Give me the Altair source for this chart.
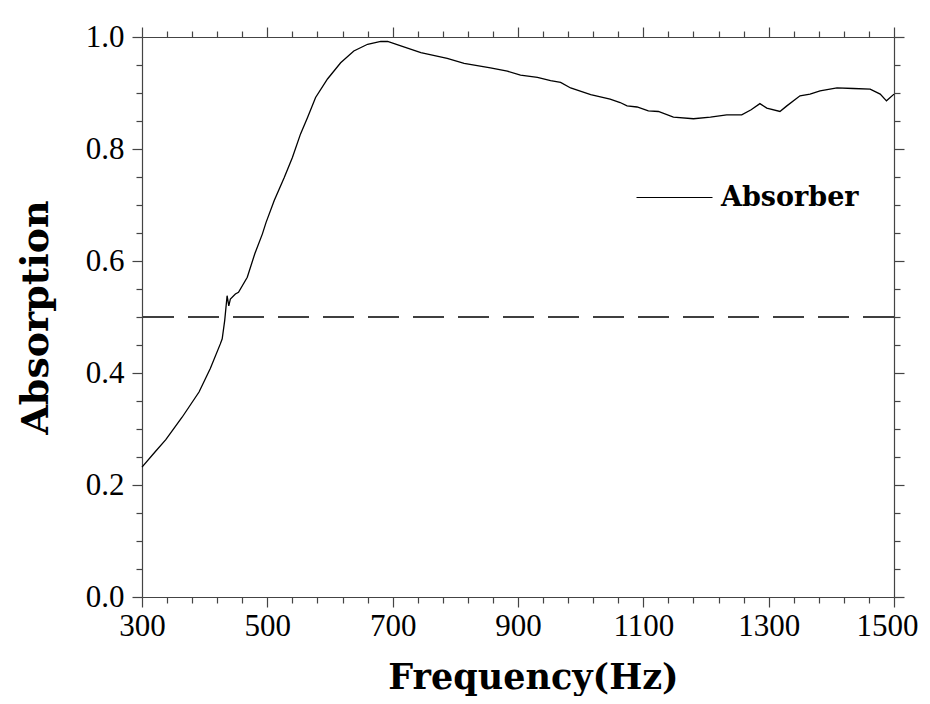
import altair as alt
import pandas as pd

# Absorption curve
freq = [300, 320, 338, 364, 391, 409, 425, 428, 432, 435.8, 438.5, 441, 449, 454, 468,
        480, 492, 498, 511, 527, 540, 553, 564, 577, 596, 617, 638, 660, 681, 692,
        713, 745, 787, 814, 856, 883, 904, 931, 952, 968, 984, 1016, 1047, 1063, 1074, 1090,
        1108, 1124, 1148, 1180, 1207, 1233, 1257, 1272, 1286, 1297, 1318, 1329, 1350, 1366,
        1382, 1409, 1435, 1462, 1478, 1488, 1500]
absorption = [0.232, 0.258, 0.281, 0.321, 0.366, 0.408, 0.452, 0.461, 0.494, 0.538, 0.520, 0.532,
              0.541, 0.544, 0.571, 0.613, 0.648, 0.669, 0.708, 0.749, 0.785,
              0.827, 0.856, 0.892, 0.925, 0.954, 0.975, 0.987, 0.992, 0.992, 0.984, 0.972, 0.962,
              0.953, 0.945, 0.939, 0.932, 0.928, 0.922, 0.919, 0.909, 0.897, 0.889, 0.883, 0.877,
              0.875, 0.868, 0.867, 0.857, 0.854, 0.857, 0.861, 0.861, 0.870, 0.881, 0.873, 0.867,
              0.877, 0.895, 0.898, 0.904, 0.909, 0.908, 0.907, 0.898, 0.886, 0.898]
series_name = ["Absorber"]
threshold = [0.5]

x_ticks = list(range(300, 1501, 40))
y_ticks = [round(i * 0.05, 2) for i in range(21)]

df = pd.DataFrame({"Frequency": freq, "Absorption": absorption, "series": series_name[0]})
df_thr = pd.DataFrame({"thr": threshold})

x_scale = alt.Scale(domain=[300, 1500], nice=False, zero=False)
y_scale = alt.Scale(domain=[0, 1.0], nice=False)

axis_common = dict(
    domainColor="#444", domainWidth=1.2, tickColor="#444", tickWidth=1.2,
    grid=False, labelOverlap=False, labelFlush=False,
    labelFont="Liberation Serif", labelFontSize=31, labelColor="black",
    titleFont="DejaVu Serif", titleFontWeight="bold", titleColor="black",
)

x_major = "(datum.value - 300) % 200 == 0"
y_major = "abs(datum.value * 5 - round(datum.value * 5)) < 0.001"

x_axis_bottom = alt.Axis(
    orient="bottom", values=x_ticks,
    labelExpr=f"{x_major} ? datum.value : ''",
    tickSize=alt.condition(x_major, alt.value(10), alt.value(6)),
    labelOffset=alt.condition("datum.value == 1500", alt.value(-7), alt.value(0)),
    labelPadding=4, title="Frequency(Hz)", titleFontSize=35,
    titleX=391, titleY=91, titleBaseline="alphabetic", titleAlign="center",
    **axis_common,
)
y_axis_left = alt.Axis(
    orient="left", values=y_ticks,
    labelExpr=f"{y_major} ? format(datum.value, '.1f') : ''",
    tickSize=alt.condition(y_major, alt.value(10), alt.value(6)),
    labelPadding=8, title="Absorption", titleFontSize=38,
    titleX=-95, titleY=280, titleAngle=270, titleBaseline="alphabetic", titleAlign="center",
    **axis_common,
)
x_axis_top = alt.Axis(
    orient="top", values=x_ticks, labels=False, title=None,
    tickSize=alt.condition(x_major, alt.value(10), alt.value(6)),
    domainColor="#444", domainWidth=1.2, tickColor="#444", tickWidth=1.2, grid=False,
)
y_axis_right = alt.Axis(
    orient="right", values=y_ticks, labels=False, title=None,
    tickSize=alt.condition(y_major, alt.value(10), alt.value(6)),
    domainColor="#444", domainWidth=1.2, tickColor="#444", tickWidth=1.2, grid=False,
)

line = alt.Chart(df).mark_line(strokeWidth=1.3).encode(
    x=alt.X("Frequency:Q", scale=x_scale, axis=x_axis_bottom),
    y=alt.Y("Absorption:Q", scale=y_scale, axis=y_axis_left),
    color=alt.Color(
        "series:N",
        scale=alt.Scale(domain=series_name, range=["black"]),
        legend=alt.Legend(
            title=None, orient="none", legendX=494, legendY=122, padding=0,
            symbolType="stroke", symbolSize=5776, symbolStrokeWidth=1,
            labelFont="DejaVu Serif", labelFontWeight="bold", labelFontSize=27,
            labelColor="black", labelOffset=8,
        ),
    ),
)

mirror = alt.Chart(df).mark_line(opacity=0).encode(
    x=alt.X("Frequency:Q", scale=x_scale, axis=x_axis_top),
    y=alt.Y("Absorption:Q", scale=y_scale, axis=y_axis_right),
)

dash = alt.Chart(df_thr).mark_rule(color="black", strokeWidth=1.5, strokeDash=[31, 14]).encode(
    y=alt.Y("thr:Q", scale=y_scale, axis=None),
)

chart = alt.layer(line, mirror, dash).resolve_axis(
    x="independent", y="independent"
).properties(
    width=752, height=560,
    autosize=alt.AutoSizeParams(type="none"),
    padding={"left": 134, "top": 29, "right": 28, "bottom": 99},
).configure_view(stroke=None).configure(background="white")

chart.save("out.html", embed_options={"renderer": "svg", "actions": False})
